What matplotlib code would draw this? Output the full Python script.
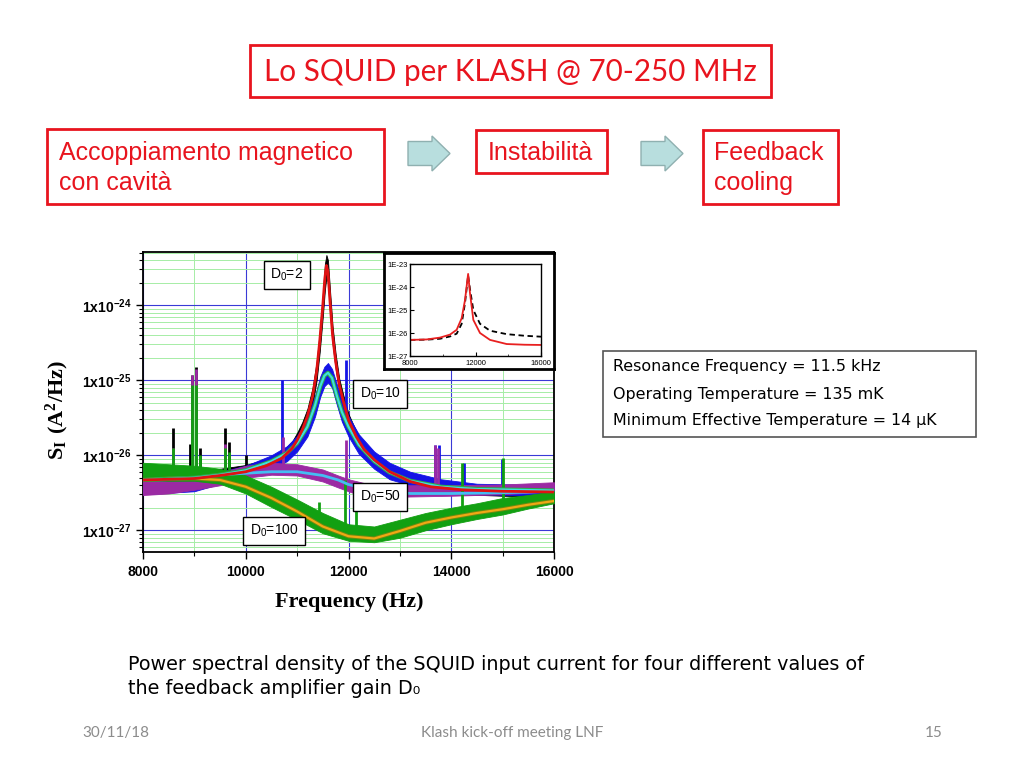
import matplotlib.pyplot as plt
import numpy as np
from matplotlib.patches import Rectangle, FancyArrow
from matplotlib.ticker import MultipleLocator, LogLocator, NullFormatter

plt.rcParams['mathtext.fontset'] = 'custom'
plt.rcParams['mathtext.rm'] = 'Liberation Sans'
plt.rcParams['mathtext.sf'] = 'Liberation Sans:bold'
plt.rcParams['mathtext.bf'] = 'Liberation Serif:bold'

# all spectra values are log10 of S_I in A^2/Hz

# D0=2 : fit (red) and measured band (black)
f_d2 = [8000, 8500, 9000, 9500, 10000, 10400, 10700, 10900, 11000, 11100, 11200, 11300, 11380,
        11440, 11500, 11540, 11570, 11600, 11640, 11690, 11750, 11820, 11900, 12000, 12150,
        12300, 12500, 12800, 13200, 13600, 14200, 15000, 16000]
fit_d2 = [-26.33, -26.32, -26.31, -26.27, -26.22, -26.14, -26.04, -25.91, -25.80, -25.66, -25.48,
          -25.22, -24.88, -24.48, -24.00, -23.64, -23.47, -23.55, -23.95, -24.40, -24.75, -25.06,
          -25.28, -25.53, -25.75, -25.92, -26.06, -26.22, -26.35, -26.42, -26.46, -26.48, -26.49]
hi_d2 = [-26.25, -26.24, -26.22, -26.18, -26.13, -26.05, -25.95, -25.82, -25.70, -25.56, -25.38,
         -25.10, -24.75, -24.35, -23.85, -23.45, -23.33, -23.40, -23.80, -24.28, -24.65, -24.98,
         -25.20, -25.45, -25.68, -25.84, -26.00, -26.15, -26.28, -26.36, -26.40, -26.42, -26.43]
lo_d2 = [-26.40, -26.39, -26.38, -26.35, -26.30, -26.22, -26.12, -26.00, -25.88, -25.75, -25.58,
         -25.32, -25.00, -24.62, -24.15, -23.80, -23.62, -23.70, -24.10, -24.52, -24.85, -25.15,
         -25.36, -25.60, -25.82, -25.98, -26.12, -26.28, -26.40, -26.47, -26.52, -26.54, -26.55]

# D0=10 : fit (cyan) and measured band (blue)
f_d10 = [8000, 9000, 9500, 10000, 10500, 10800, 11000, 11200, 11350, 11450, 11530, 11600, 11680,
         11770, 11870, 12000, 12200, 12500, 12800, 13200, 13800, 14500, 16000]
fit_d10 = [-26.33, -26.30, -26.26, -26.20, -26.08, -25.97, -25.84, -25.62, -25.33, -25.08, -24.94,
           -24.90, -24.97, -25.20, -25.42, -25.62, -25.86, -26.08, -26.23, -26.34, -26.42, -26.45, -26.47]
hi_d10 = [-26.32, -26.28, -26.22, -26.14, -26.00, -25.88, -25.74, -25.50, -25.20, -24.95, -24.82,
          -24.77, -24.85, -25.05, -25.28, -25.48, -25.72, -25.95, -26.10, -26.22, -26.32, -26.38, -26.40]
lo_d10 = [-26.52, -26.48, -26.38, -26.30, -26.18, -26.08, -25.95, -25.75, -25.48, -25.22, -25.08,
          -25.03, -25.10, -25.32, -25.55, -25.75, -25.98, -26.18, -26.32, -26.40, -26.48, -26.52, -26.54]

# D0=50 : fit (light blue) and measured band (purple)
f_d50 = [8000, 8500, 9000, 9500, 10000, 10500, 11000, 11500, 11800, 12000, 12300, 12700, 13200,
         14000, 15000, 16000]
fit_d50 = [-26.33, -26.31, -26.30, -26.26, -26.24, -26.22, -26.22, -26.27, -26.33, -26.39, -26.44,
           -26.48, -26.51, -26.51, -26.50, -26.48]
hi_d50 = [-26.32, -26.31, -26.29, -26.23, -26.14, -26.10, -26.12, -26.19, -26.27, -26.32, -26.37,
          -26.39, -26.40, -26.40, -26.39, -26.36]
lo_d50 = [-26.53, -26.51, -26.46, -26.40, -26.30, -26.26, -26.27, -26.35, -26.43, -26.48, -26.55,
          -26.56, -26.55, -26.54, -26.52, -26.48]

# D0=100 : fit (orange) and measured band (green)
f_d100 = [8000, 8500, 9000, 9500, 10000, 10500, 11000, 11500, 12000, 12500, 13000, 13500, 14000,
          14500, 15000, 15500, 16000]
fit_d100 = [-26.33, -26.31, -26.31, -26.33, -26.42, -26.57, -26.75, -26.95, -27.08, -27.11, -27.01,
            -26.90, -26.83, -26.77, -26.72, -26.66, -26.61]
hi_d100 = [-26.10, -26.12, -26.14, -26.18, -26.27, -26.42, -26.59, -26.77, -26.92, -26.95, -26.86,
           -26.77, -26.70, -26.64, -26.57, -26.53, -26.48]
lo_d100 = [-26.33, -26.34, -26.34, -26.38, -26.51, -26.69, -26.86, -27.04, -27.14, -27.16, -27.10,
           -27.00, -26.92, -26.85, -26.79, -26.71, -26.64]

# narrow pickup lines: frequency, base, top
spk_d2_f = [8580, 8910, 8960, 9030, 9100, 9590, 9670, 10010]
spk_d2_lo = [-26.30, -26.30, -26.30, -26.30, -26.30, -26.27, -26.27, -26.22]
spk_d2_hi = [-25.63, -25.85, -24.93, -24.82, -25.90, -25.64, -25.82, -26.00]
spk_d10_f = [10700, 11960, 13680, 13760, 14250, 14990]
spk_d10_lo = [-26.05, -25.55, -26.40, -26.40, -26.45, -26.45]
spk_d10_hi = [-25.00, -24.73, -25.86, -25.86, -26.10, -26.05]
spk_d50_f = [8580, 8960, 9030, 9600, 10720, 11950, 13680, 13750]
spk_d50_lo = [-26.45, -26.40, -26.40, -26.35, -26.25, -26.45, -26.50, -26.50]
spk_d50_hi = [-25.90, -24.93, -24.85, -25.85, -25.75, -25.80, -25.86, -25.90]
spk_d100_f = [8580, 8960, 9030, 9100, 9590, 9680, 11430, 11930, 12150, 14210, 15010]
spk_d100_lo = [-26.25, -26.25, -26.25, -26.25, -26.30, -26.30, -26.95, -27.05, -27.05, -26.85, -26.75]
spk_d100_hi = [-25.90, -25.06, -25.06, -26.00, -25.90, -25.95, -26.62, -26.33, -26.65, -26.10, -26.04]

# inset: fit (red) and model (black dashed)
f_in = [8000, 9018, 9832, 10443, 10850, 11155, 11359, 11550, 11664, 11868, 12275, 12886, 13904, 15000, 16000]
in_red = [-26.30, -26.28, -26.20, -26.07, -25.86, -25.36, -24.57, -23.43, -24.27, -25.43, -26.00,
          -26.30, -26.48, -26.51, -26.52]
in_black = [-26.30, -26.29, -26.25, -26.15, -26.03, -25.60, -24.70, -23.50, -24.10, -25.00, -25.60,
            -25.90, -26.05, -26.12, -26.16]

y_ticks = [1e-27, 1e-26, 1e-25, 1e-24]
y_ticklabels = [r'$\mathsf{1x10^{-27}}$', r'$\mathsf{1x10^{-26}}$',
                r'$\mathsf{1x10^{-25}}$', r'$\mathsf{1x10^{-24}}$']
x_ticks = [8000, 10000, 12000, 14000, 16000]

info_lines = ['Resonance Frequency = 11.5 kHz',
              'Operating Temperature = 135 mK',
              'Minimum Effective Temperature = 14 \u03bcK']

RED = '#e8141e'

fig = plt.figure(figsize=(10.24, 7.68), dpi=100)

# slide background in pixel coordinates
bg = fig.add_axes([0, 0, 1, 1])
bg.set_xlim(0, 1024)
bg.set_ylim(768, 0)
bg.axis('off')

bg.add_patch(Rectangle((250, 45), 521, 52, fill=False, ec=RED, lw=2))
bg.text(510, 72, 'Lo SQUID per KLASH @ 70-250 MHz', color=RED, fontsize=21.3,
        family='Lato', ha='center', va='center')

box_font = dict(color=RED, fontsize=18, family='Liberation Sans', ha='left', va='center')
bg.add_patch(Rectangle((47, 129), 337, 75, fill=False, ec=RED, lw=2))
bg.text(59, 153, 'Accoppiamento magnetico', **box_font)
bg.text(59, 183, 'con cavit\u00e0', **box_font)
bg.add_patch(Rectangle((476, 130), 131, 43, fill=False, ec=RED, lw=2))
bg.text(488, 153, 'Instabilit\u00e0', **box_font)
bg.add_patch(Rectangle((703, 130), 135, 74, fill=False, ec=RED, lw=2))
bg.text(714, 153, 'Feedback', **box_font)
bg.text(714, 183, 'cooling', **box_font)

for x0 in (408, 641):
    bg.add_patch(FancyArrow(x0, 153.5, 42, 0, width=24, head_width=35, head_length=18,
                            length_includes_head=True, fc='#b8dede', ec='#8fb0b0', lw=1))

bg.add_patch(Rectangle((603, 351), 373, 86, fill=False, ec='#555555', lw=1.2))
for i, line in enumerate(info_lines):
    bg.text(613, 367 + i * 27, line, fontsize=11.4, family='DejaVu Sans', ha='left', va='center')

bg.text(128, 665, 'Power spectral density of the SQUID input current for four different values of',
        fontsize=13.8, family='DejaVu Sans', ha='left', va='center')
bg.text(128, 689, 'the feedback amplifier gain D\u2080',
        fontsize=13.8, family='DejaVu Sans', ha='left', va='center')

bg.text(82, 733, '30/11/18', color='#8c8c8c', fontsize=11, family='Lato', ha='left', va='center')
bg.text(512, 733, 'Klash kick-off meeting LNF', color='#8c8c8c', fontsize=11, family='Lato',
        ha='center', va='center')
bg.text(943, 733, '15', color='#8c8c8c', fontsize=11, family='Lato', ha='right', va='center')

# main spectrum plot
ax = fig.add_axes([143 / 1024, 1 - 552 / 768, 411 / 1024, 300 / 768])
ax.set_yscale('log')
ax.set_xlim(8000, 16000)
ax.set_ylim(10 ** -27.29, 10 ** -23.29)
ax.set_axisbelow(True)

series = [
    (f_d2, lo_d2, hi_d2, spk_d2_f, spk_d2_lo, spk_d2_hi, '#000000', 2),
    (f_d10, lo_d10, hi_d10, spk_d10_f, spk_d10_lo, spk_d10_hi, '#1414e6', 3),
    (f_d50, lo_d50, hi_d50, spk_d50_f, spk_d50_lo, spk_d50_hi, '#9b2aa3', 4),
    (f_d100, lo_d100, hi_d100, spk_d100_f, spk_d100_lo, spk_d100_hi, '#12a012', 5),
]
for f, lo, hi, sf, slo, shi, c, z in series:
    ax.fill_between(f, 10 ** np.array(lo), 10 ** np.array(hi), color=c, lw=0.6, zorder=z)
    ax.vlines(sf, 10 ** np.array(slo), 10 ** np.array(shi), color=c, lw=2, zorder=z)

ax.plot(f_d100, 10 ** np.array(fit_d100), color='#6a8a10', lw=3, zorder=6)
ax.plot(f_d100, 10 ** np.array(fit_d100), color='#f0a814', lw=1.6, zorder=6)
ax.plot(f_d50, 10 ** np.array(fit_d50), color='#44bdf2', lw=2, zorder=7)
ax.plot(f_d10, 10 ** np.array(fit_d10), color='#2ea84a', lw=3, zorder=8)
ax.plot(f_d10, 10 ** np.array(fit_d10), color='#3ee0e0', lw=1.5, zorder=8)
ax.plot(f_d2, 10 ** np.array(fit_d2), color='#e01212', lw=2, zorder=9)

ax.set_xticks(x_ticks)
ax.xaxis.set_minor_locator(MultipleLocator(1000))
ax.set_xticklabels([str(v) for v in x_ticks], fontsize=10, fontweight='bold', family='Liberation Sans')
ax.yaxis.set_major_locator(LogLocator(base=10))
ax.yaxis.set_minor_locator(LogLocator(base=10, subs=np.arange(2, 10)))
ax.yaxis.set_minor_formatter(NullFormatter())
ax.set_yticks(y_ticks)
ax.set_yticklabels(y_ticklabels, fontsize=10)
ax.tick_params(which='major', direction='out', length=5, width=1)
ax.tick_params(which='minor', direction='out', length=3, width=0.8)
ax.tick_params(axis='x', pad=4)
ax.grid(which='major', color='#3a3ad6', lw=0.8)
ax.grid(which='minor', color='#a6eda6', lw=0.7)
for s in ax.spines.values():
    s.set_linewidth(1.3)

fig.text(57 / 1024, 1 - 410 / 768, r'$\mathbf{S_I\ (A^2/Hz)}$', rotation=90, fontsize=16,
         ha='center', va='center')
fig.text(349 / 1024, 1 - 602 / 768, 'Frequency (Hz)', fontsize=16, fontweight='bold',
         family='Liberation Serif', ha='center', va='center')

label_pos = [('D$_0$=2', 287, 275), ('D$_0$=10', 380, 394), ('D$_0$=50', 380, 497),
             ('D$_0$=100', 274, 531)]
for txt, px, py in label_pos:
    fig.text(px / 1024, 1 - py / 768, txt, fontsize=10, family='Liberation Sans',
             ha='center', va='center', zorder=10,
             bbox=dict(boxstyle='square,pad=0.45', fc='white', ec='black', lw=1))

# inset frame and inset plot
fr = fig.add_axes([384 / 1024, 1 - 369 / 768, 170 / 1024, 116 / 768], zorder=2)
fr.set_xticks([])
fr.set_yticks([])
for s in fr.spines.values():
    s.set_linewidth(2)

axi = fig.add_axes([410 / 1024, 1 - 356 / 768, 131 / 1024, 92 / 768], zorder=3)
axi.set_yscale('log')
axi.set_xlim(8000, 16000)
axi.set_ylim(1e-27, 1e-23)
axi.plot(f_in, 10 ** np.array(in_black), color='black', lw=1.3, ls=(0, (3, 2)))
axi.plot(f_in, 10 ** np.array(in_red), color='#e82020', lw=1.3)
axi.set_xticks([8000, 12000, 16000])
axi.xaxis.set_minor_locator(MultipleLocator(2000))
axi.set_xticklabels(['8000', '12000', '16000'], fontsize=5.5, family='Liberation Sans')
axi.set_yticks([1e-27, 1e-26, 1e-25, 1e-24, 1e-23])
axi.set_yticklabels(['1E-27', '1E-26', '1E-25', '1E-24', '1E-23'], fontsize=5.5,
                    family='Liberation Sans')
axi.yaxis.set_minor_locator(LogLocator(base=10, subs=np.arange(2, 10)))
axi.yaxis.set_minor_formatter(NullFormatter())
axi.tick_params(which='major', direction='in', length=3, width=0.8, pad=1.5)
axi.tick_params(axis='x', which='major', pad=3)
axi.tick_params(which='minor', direction='in', length=1.5, width=0.5)
for s in axi.spines.values():
    s.set_linewidth(1)

fig.savefig('out.png', dpi=100)
